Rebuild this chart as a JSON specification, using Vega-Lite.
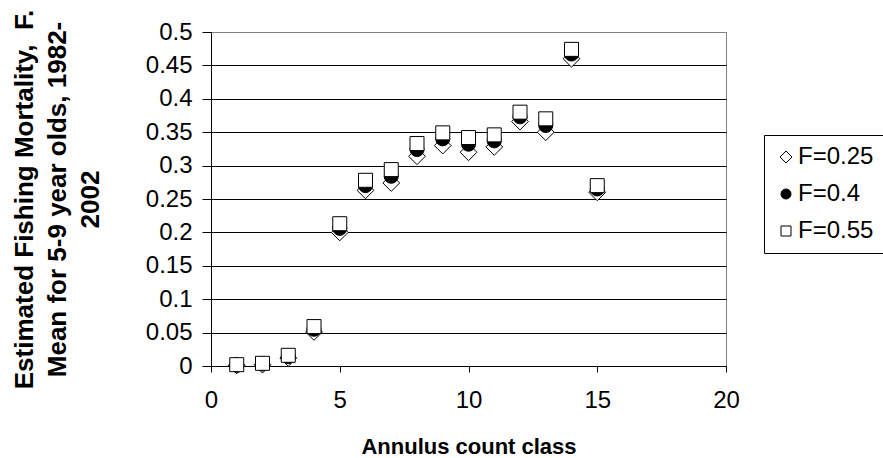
{
  "$schema": "https://vega.github.io/schema/vega-lite/v6.json",
  "width": 515,
  "height": 334,
  "autosize": {"type": "none"},
  "padding": {"left": 211, "top": 32, "right": 157, "bottom": 92},
  "background": "white",
  "config": {
    "font": "Liberation Sans",
    "view": {"stroke": "#808080", "strokeWidth": 1}
  },
  "data": {
    "values": [
      {"x": 1, "F": "F=0.25", "value": 0.001},
      {"x": 2, "F": "F=0.25", "value": 0.002},
      {"x": 3, "F": "F=0.25", "value": 0.012},
      {"x": 4, "F": "F=0.25", "value": 0.051},
      {"x": 5, "F": "F=0.25", "value": 0.200},
      {"x": 6, "F": "F=0.25", "value": 0.263},
      {"x": 7, "F": "F=0.25", "value": 0.274},
      {"x": 8, "F": "F=0.25", "value": 0.314},
      {"x": 9, "F": "F=0.25", "value": 0.330},
      {"x": 10, "F": "F=0.25", "value": 0.320},
      {"x": 11, "F": "F=0.25", "value": 0.328},
      {"x": 12, "F": "F=0.25", "value": 0.366},
      {"x": 13, "F": "F=0.25", "value": 0.350},
      {"x": 14, "F": "F=0.25", "value": 0.460},
      {"x": 15, "F": "F=0.25", "value": 0.260},
      {"x": 1, "F": "F=0.4", "value": 0.001},
      {"x": 2, "F": "F=0.4", "value": 0.003},
      {"x": 3, "F": "F=0.4", "value": 0.014},
      {"x": 4, "F": "F=0.4", "value": 0.055},
      {"x": 5, "F": "F=0.4", "value": 0.206},
      {"x": 6, "F": "F=0.4", "value": 0.270},
      {"x": 7, "F": "F=0.4", "value": 0.284},
      {"x": 8, "F": "F=0.4", "value": 0.324},
      {"x": 9, "F": "F=0.4", "value": 0.340},
      {"x": 10, "F": "F=0.4", "value": 0.332},
      {"x": 11, "F": "F=0.4", "value": 0.337},
      {"x": 12, "F": "F=0.4", "value": 0.373},
      {"x": 13, "F": "F=0.4", "value": 0.360},
      {"x": 14, "F": "F=0.4", "value": 0.467},
      {"x": 15, "F": "F=0.4", "value": 0.265},
      {"x": 1, "F": "F=0.55", "value": 0.002},
      {"x": 2, "F": "F=0.55", "value": 0.004},
      {"x": 3, "F": "F=0.55", "value": 0.016},
      {"x": 4, "F": "F=0.55", "value": 0.059},
      {"x": 5, "F": "F=0.55", "value": 0.213},
      {"x": 6, "F": "F=0.55", "value": 0.278},
      {"x": 7, "F": "F=0.55", "value": 0.294},
      {"x": 8, "F": "F=0.55", "value": 0.333},
      {"x": 9, "F": "F=0.55", "value": 0.349},
      {"x": 10, "F": "F=0.55", "value": 0.342},
      {"x": 11, "F": "F=0.55", "value": 0.346},
      {"x": 12, "F": "F=0.55", "value": 0.380},
      {"x": 13, "F": "F=0.55", "value": 0.370},
      {"x": 14, "F": "F=0.55", "value": 0.474},
      {"x": 15, "F": "F=0.55", "value": 0.270}
    ]
  },
  "mark": {"type": "point", "strokeWidth": 1, "opacity": 1, "size": 196},
  "encoding": {
    "x": {
      "field": "x",
      "type": "quantitative",
      "scale": {"domain": [0, 20], "nice": false},
      "axis": {
        "values": [0, 5, 10, 15, 20],
        "title": "Annulus count class",
        "titleFontSize": 22,
        "titleFontWeight": "bold",
        "titleColor": "black",
        "titleBaseline": "alphabetic",
        "titleY": 87,
        "grid": false,
        "domainColor": "black",
        "tickColor": "black",
        "tickSize": 6,
        "labelFontSize": 24,
        "labelColor": "black",
        "labelPadding": 16,
        "labelFlush": false
      }
    },
    "y": {
      "field": "value",
      "type": "quantitative",
      "scale": {"domain": [0, 0.5], "nice": false},
      "axis": {
        "values": [0, 0.05, 0.1, 0.15, 0.2, 0.25, 0.3, 0.35, 0.4, 0.45, 0.5],
        "format": "~g",
        "title": ["Estimated Fishing Mortality, \u00a0F.", "Mean for 5-9 year olds, 1982-", "2002"],
        "titleFontSize": 26,
        "titleFontWeight": "bold",
        "titleColor": "black",
        "titleLineHeight": 33,
        "titleAngle": -90,
        "titleAlign": "center",
        "titleBaseline": "middle",
        "titleX": -187,
        "titleY": 167,
        "grid": true,
        "gridColor": {"condition": {"test": "datum.value >= 0.499", "value": "#808080"}, "value": "black"},
        "gridOpacity": 1,
        "gridWidth": 1,
        "domainColor": "black",
        "tickColor": "black",
        "tickSize": 9,
        "labelFontSize": 24,
        "labelColor": "black",
        "labelPadding": 10
      }
    },
    "shape": {
      "field": "F",
      "type": "nominal",
      "scale": {"domain": ["F=0.25", "F=0.4", "F=0.55"], "range": ["M-1.2,0L0,-1.2L1.2,0L0,1.2Z", "circle", "square"]},
      "legend": {
        "orient": "none",
        "legendX": 553,
        "legendY": 103,
        "title": null,
        "strokeColor": "black",
        "fillColor": "white",
        "padding": 10,
        "labelFontSize": 24,
        "labelColor": "black",
        "labelOffset": 0,
        "rowPadding": 13,
        "symbolSize": 100,
        "symbolStrokeWidth": 1
      }
    },
    "fill": {
      "field": "F",
      "type": "nominal",
      "scale": {"domain": ["F=0.25", "F=0.4", "F=0.55"], "range": ["white", "black", "white"]}
    },
    "stroke": {
      "field": "F",
      "type": "nominal",
      "scale": {"domain": ["F=0.25", "F=0.4", "F=0.55"], "range": ["black", "black", "black"]}
    }
  }
}
